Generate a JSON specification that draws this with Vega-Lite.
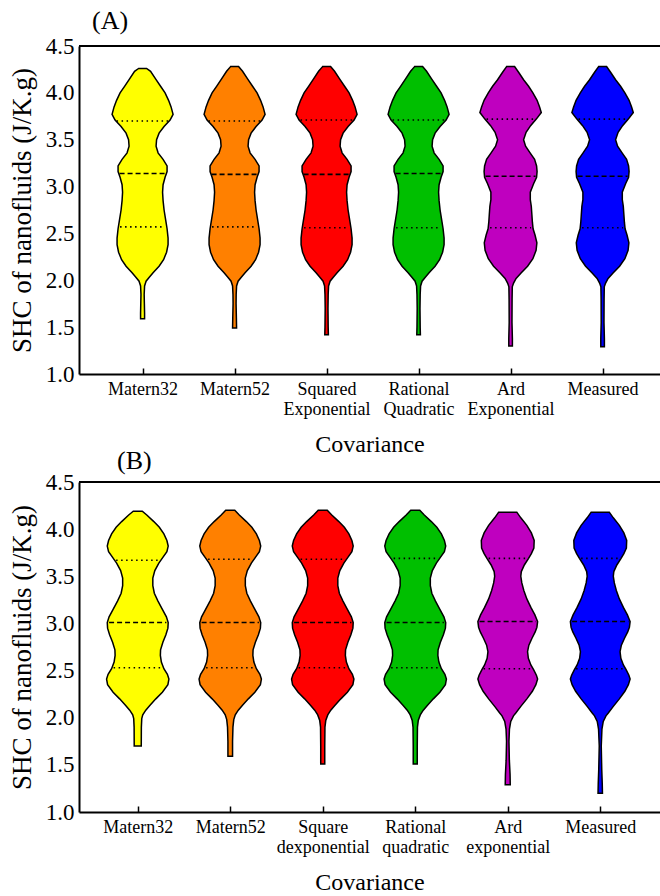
{
"$schema": "https://vega.github.io/schema/vega-lite/v6.json",
"padding": {"left": 8, "top": 8, "right": 0, "bottom": 0},
"background": "white",
"config": {"font": "Liberation Serif", "view": {"stroke": null},
  "axis": {"labelFont": "Liberation Serif", "titleFont": "Liberation Serif", "labelColor": "black", "titleColor": "black", "domainColor": "black", "tickColor": "black", "titleFontWeight": "normal", "grid": false},
  "title": {"font": "Liberation Serif", "fontWeight": "normal", "fontSize": 26, "color": "black"}},
"datasets": {
"A": [
{"c":"Matern32","v":4.26,"w":4},{"c":"Matern32","v":4.23,"w":8},{"c":"Matern32","v":4.15,"w":13},{"c":"Matern32","v":4.07,"w":18},{"c":"Matern32","v":4.0,"w":22.5},{"c":"Matern32","v":3.92,"w":26},{"c":"Matern32","v":3.85,"w":28.5},{"c":"Matern32","v":3.77,"w":30.5},{"c":"Matern32","v":3.71,"w":27.5},{"c":"Matern32","v":3.64,"w":21.5},{"c":"Matern32","v":3.57,"w":16.5},{"c":"Matern32","v":3.5,"w":14},{"c":"Matern32","v":3.43,"w":13.5},{"c":"Matern32","v":3.36,"w":15.5},{"c":"Matern32","v":3.29,"w":20.5},{"c":"Matern32","v":3.22,"w":24.5},{"c":"Matern32","v":3.16,"w":24.5},{"c":"Matern32","v":3.1,"w":22.5},{"c":"Matern32","v":3.02,"w":20.5},{"c":"Matern32","v":2.94,"w":20},{"c":"Matern32","v":2.85,"w":20.5},{"c":"Matern32","v":2.75,"w":21.5},{"c":"Matern32","v":2.65,"w":23},{"c":"Matern32","v":2.55,"w":24.5},{"c":"Matern32","v":2.45,"w":25.5},{"c":"Matern32","v":2.38,"w":25.5},{"c":"Matern32","v":2.3,"w":24},{"c":"Matern32","v":2.22,"w":21},{"c":"Matern32","v":2.15,"w":16.5},{"c":"Matern32","v":2.08,"w":10.5},{"c":"Matern32","v":2.03,"w":6.5},{"c":"Matern32","v":1.99,"w":3.5},{"c":"Matern32","v":1.94,"w":2},{"c":"Matern32","v":1.85,"w":1.6},{"c":"Matern32","v":1.75,"w":1.8},{"c":"Matern32","v":1.65,"w":2},{"c":"Matern32","v":1.59,"w":2},
{"c":"Matern52","v":4.28,"w":4},{"c":"Matern52","v":4.23,"w":8},{"c":"Matern52","v":4.15,"w":13},{"c":"Matern52","v":4.07,"w":18},{"c":"Matern52","v":4.0,"w":22.5},{"c":"Matern52","v":3.92,"w":26},{"c":"Matern52","v":3.85,"w":28.5},{"c":"Matern52","v":3.77,"w":30.5},{"c":"Matern52","v":3.71,"w":27.5},{"c":"Matern52","v":3.64,"w":21.5},{"c":"Matern52","v":3.57,"w":16.5},{"c":"Matern52","v":3.5,"w":14},{"c":"Matern52","v":3.43,"w":13.5},{"c":"Matern52","v":3.36,"w":15.5},{"c":"Matern52","v":3.29,"w":20.5},{"c":"Matern52","v":3.22,"w":24.5},{"c":"Matern52","v":3.16,"w":24.5},{"c":"Matern52","v":3.1,"w":22.5},{"c":"Matern52","v":3.02,"w":20.5},{"c":"Matern52","v":2.94,"w":20},{"c":"Matern52","v":2.85,"w":20.5},{"c":"Matern52","v":2.75,"w":21.5},{"c":"Matern52","v":2.65,"w":23},{"c":"Matern52","v":2.55,"w":24.5},{"c":"Matern52","v":2.45,"w":25.5},{"c":"Matern52","v":2.38,"w":25.5},{"c":"Matern52","v":2.3,"w":24},{"c":"Matern52","v":2.22,"w":21},{"c":"Matern52","v":2.15,"w":16.5},{"c":"Matern52","v":2.08,"w":10.5},{"c":"Matern52","v":2.03,"w":6.5},{"c":"Matern52","v":1.99,"w":3.5},{"c":"Matern52","v":1.94,"w":2},{"c":"Matern52","v":1.85,"w":1.6},{"c":"Matern52","v":1.75,"w":1.5},{"c":"Matern52","v":1.6,"w":1.8},{"c":"Matern52","v":1.49,"w":2},
{"c":"Squared Exponential","v":4.28,"w":4},{"c":"Squared Exponential","v":4.23,"w":8},{"c":"Squared Exponential","v":4.15,"w":13},{"c":"Squared Exponential","v":4.07,"w":18},{"c":"Squared Exponential","v":4.0,"w":22.5},{"c":"Squared Exponential","v":3.92,"w":26},{"c":"Squared Exponential","v":3.85,"w":28.5},{"c":"Squared Exponential","v":3.77,"w":30.5},{"c":"Squared Exponential","v":3.71,"w":27.5},{"c":"Squared Exponential","v":3.64,"w":21.5},{"c":"Squared Exponential","v":3.57,"w":16.5},{"c":"Squared Exponential","v":3.5,"w":14},{"c":"Squared Exponential","v":3.43,"w":13.5},{"c":"Squared Exponential","v":3.36,"w":15.5},{"c":"Squared Exponential","v":3.29,"w":20.5},{"c":"Squared Exponential","v":3.22,"w":24.5},{"c":"Squared Exponential","v":3.16,"w":24.5},{"c":"Squared Exponential","v":3.1,"w":22.5},{"c":"Squared Exponential","v":3.02,"w":20.5},{"c":"Squared Exponential","v":2.94,"w":20},{"c":"Squared Exponential","v":2.85,"w":20.5},{"c":"Squared Exponential","v":2.75,"w":21.5},{"c":"Squared Exponential","v":2.65,"w":23},{"c":"Squared Exponential","v":2.55,"w":24.5},{"c":"Squared Exponential","v":2.45,"w":25.5},{"c":"Squared Exponential","v":2.38,"w":25.5},{"c":"Squared Exponential","v":2.3,"w":24},{"c":"Squared Exponential","v":2.22,"w":21},{"c":"Squared Exponential","v":2.15,"w":16.5},{"c":"Squared Exponential","v":2.08,"w":10.5},{"c":"Squared Exponential","v":2.03,"w":6.5},{"c":"Squared Exponential","v":1.99,"w":3.5},{"c":"Squared Exponential","v":1.94,"w":2},{"c":"Squared Exponential","v":1.85,"w":1.6},{"c":"Squared Exponential","v":1.7,"w":1.4},{"c":"Squared Exponential","v":1.5,"w":1.6},{"c":"Squared Exponential","v":1.42,"w":1.8},
{"c":"Rational Quadratic","v":4.28,"w":4},{"c":"Rational Quadratic","v":4.23,"w":8},{"c":"Rational Quadratic","v":4.15,"w":13},{"c":"Rational Quadratic","v":4.07,"w":18},{"c":"Rational Quadratic","v":4.0,"w":22.5},{"c":"Rational Quadratic","v":3.92,"w":26},{"c":"Rational Quadratic","v":3.85,"w":28.5},{"c":"Rational Quadratic","v":3.77,"w":30.5},{"c":"Rational Quadratic","v":3.71,"w":27.5},{"c":"Rational Quadratic","v":3.64,"w":21.5},{"c":"Rational Quadratic","v":3.57,"w":16.5},{"c":"Rational Quadratic","v":3.5,"w":14},{"c":"Rational Quadratic","v":3.43,"w":13.5},{"c":"Rational Quadratic","v":3.36,"w":15.5},{"c":"Rational Quadratic","v":3.29,"w":20.5},{"c":"Rational Quadratic","v":3.22,"w":24.5},{"c":"Rational Quadratic","v":3.16,"w":24.5},{"c":"Rational Quadratic","v":3.1,"w":22.5},{"c":"Rational Quadratic","v":3.02,"w":20.5},{"c":"Rational Quadratic","v":2.94,"w":20},{"c":"Rational Quadratic","v":2.85,"w":20.5},{"c":"Rational Quadratic","v":2.75,"w":21.5},{"c":"Rational Quadratic","v":2.65,"w":23},{"c":"Rational Quadratic","v":2.55,"w":24.5},{"c":"Rational Quadratic","v":2.45,"w":25.5},{"c":"Rational Quadratic","v":2.38,"w":25.5},{"c":"Rational Quadratic","v":2.3,"w":24},{"c":"Rational Quadratic","v":2.22,"w":21},{"c":"Rational Quadratic","v":2.15,"w":16.5},{"c":"Rational Quadratic","v":2.08,"w":10.5},{"c":"Rational Quadratic","v":2.03,"w":6.5},{"c":"Rational Quadratic","v":1.99,"w":3.5},{"c":"Rational Quadratic","v":1.94,"w":2},{"c":"Rational Quadratic","v":1.85,"w":1.6},{"c":"Rational Quadratic","v":1.7,"w":1.4},{"c":"Rational Quadratic","v":1.5,"w":1.6},{"c":"Rational Quadratic","v":1.42,"w":1.8},
{"c":"Ard Exponential","v":4.28,"w":4},{"c":"Ard Exponential","v":4.22,"w":8},{"c":"Ard Exponential","v":4.14,"w":13},{"c":"Ard Exponential","v":4.07,"w":18},{"c":"Ard Exponential","v":4.0,"w":22.3},{"c":"Ard Exponential","v":3.92,"w":26.5},{"c":"Ard Exponential","v":3.85,"w":29},{"c":"Ard Exponential","v":3.79,"w":30.7},{"c":"Ard Exponential","v":3.72,"w":25.7},{"c":"Ard Exponential","v":3.65,"w":20},{"c":"Ard Exponential","v":3.58,"w":15.5},{"c":"Ard Exponential","v":3.5,"w":13},{"c":"Ard Exponential","v":3.43,"w":15},{"c":"Ard Exponential","v":3.36,"w":19.5},{"c":"Ard Exponential","v":3.29,"w":24},{"c":"Ard Exponential","v":3.22,"w":26},{"c":"Ard Exponential","v":3.16,"w":26.5},{"c":"Ard Exponential","v":3.1,"w":26},{"c":"Ard Exponential","v":3.03,"w":23},{"c":"Ard Exponential","v":2.94,"w":19.7},{"c":"Ard Exponential","v":2.86,"w":19.7},{"c":"Ard Exponential","v":2.79,"w":20.7},{"c":"Ard Exponential","v":2.7,"w":21.3},{"c":"Ard Exponential","v":2.62,"w":21.8},{"c":"Ard Exponential","v":2.55,"w":22.5},{"c":"Ard Exponential","v":2.48,"w":24.5},{"c":"Ard Exponential","v":2.4,"w":26.3},{"c":"Ard Exponential","v":2.32,"w":25.5},{"c":"Ard Exponential","v":2.23,"w":22.3},{"c":"Ard Exponential","v":2.15,"w":17},{"c":"Ard Exponential","v":2.08,"w":10.7},{"c":"Ard Exponential","v":2.02,"w":5.5},{"c":"Ard Exponential","v":1.97,"w":3},{"c":"Ard Exponential","v":1.93,"w":1.7},{"c":"Ard Exponential","v":1.8,"w":1.5},{"c":"Ard Exponential","v":1.55,"w":1.4},{"c":"Ard Exponential","v":1.38,"w":1.8},{"c":"Ard Exponential","v":1.3,"w":1.8},
{"c":"Measured","v":4.28,"w":4},{"c":"Measured","v":4.22,"w":8},{"c":"Measured","v":4.14,"w":13},{"c":"Measured","v":4.07,"w":18},{"c":"Measured","v":4.0,"w":22.3},{"c":"Measured","v":3.92,"w":26.5},{"c":"Measured","v":3.85,"w":29},{"c":"Measured","v":3.79,"w":30.7},{"c":"Measured","v":3.72,"w":25.7},{"c":"Measured","v":3.65,"w":20},{"c":"Measured","v":3.58,"w":15.5},{"c":"Measured","v":3.5,"w":13},{"c":"Measured","v":3.43,"w":15},{"c":"Measured","v":3.36,"w":19.5},{"c":"Measured","v":3.29,"w":24},{"c":"Measured","v":3.22,"w":26},{"c":"Measured","v":3.16,"w":26.5},{"c":"Measured","v":3.1,"w":26},{"c":"Measured","v":3.03,"w":23},{"c":"Measured","v":2.94,"w":19.7},{"c":"Measured","v":2.86,"w":19.7},{"c":"Measured","v":2.79,"w":20.7},{"c":"Measured","v":2.7,"w":21.3},{"c":"Measured","v":2.62,"w":21.8},{"c":"Measured","v":2.55,"w":22.5},{"c":"Measured","v":2.48,"w":24.5},{"c":"Measured","v":2.4,"w":26.3},{"c":"Measured","v":2.32,"w":25.5},{"c":"Measured","v":2.23,"w":22.3},{"c":"Measured","v":2.15,"w":17},{"c":"Measured","v":2.08,"w":10.7},{"c":"Measured","v":2.02,"w":5.5},{"c":"Measured","v":1.97,"w":3},{"c":"Measured","v":1.93,"w":1.7},{"c":"Measured","v":1.8,"w":1.5},{"c":"Measured","v":1.55,"w":1.4},{"c":"Measured","v":1.38,"w":1.8},{"c":"Measured","v":1.29,"w":1.8}
],
"B": [
{"c":"Matern32","v":4.19,"w":4.5},{"c":"Matern32","v":4.15,"w":9},{"c":"Matern32","v":4.08,"w":16},{"c":"Matern32","v":4.02,"w":21.5},{"c":"Matern32","v":3.95,"w":26},{"c":"Matern32","v":3.88,"w":29},{"c":"Matern32","v":3.82,"w":30.3},{"c":"Matern32","v":3.76,"w":29},{"c":"Matern32","v":3.7,"w":25},{"c":"Matern32","v":3.64,"w":21},{"c":"Matern32","v":3.56,"w":17},{"c":"Matern32","v":3.48,"w":15},{"c":"Matern32","v":3.4,"w":15},{"c":"Matern32","v":3.32,"w":16.5},{"c":"Matern32","v":3.24,"w":20},{"c":"Matern32","v":3.15,"w":24.5},{"c":"Matern32","v":3.07,"w":28.5},{"c":"Matern32","v":3.01,"w":30.3},{"c":"Matern32","v":2.95,"w":30},{"c":"Matern32","v":2.88,"w":28},{"c":"Matern32","v":2.8,"w":25},{"c":"Matern32","v":2.72,"w":22.7},{"c":"Matern32","v":2.66,"w":22.5},{"c":"Matern32","v":2.59,"w":23.5},{"c":"Matern32","v":2.52,"w":26},{"c":"Matern32","v":2.46,"w":29.5},{"c":"Matern32","v":2.41,"w":31},{"c":"Matern32","v":2.35,"w":30},{"c":"Matern32","v":2.27,"w":24.5},{"c":"Matern32","v":2.2,"w":18},{"c":"Matern32","v":2.13,"w":12},{"c":"Matern32","v":2.08,"w":8},{"c":"Matern32","v":2.03,"w":5},{"c":"Matern32","v":1.99,"w":4},{"c":"Matern32","v":1.9,"w":3.6},{"c":"Matern32","v":1.7,"w":3.5},
{"c":"Matern52","v":4.2,"w":4.5},{"c":"Matern52","v":4.15,"w":9},{"c":"Matern52","v":4.08,"w":16},{"c":"Matern52","v":4.02,"w":21.5},{"c":"Matern52","v":3.95,"w":26},{"c":"Matern52","v":3.88,"w":29},{"c":"Matern52","v":3.82,"w":30.3},{"c":"Matern52","v":3.76,"w":29},{"c":"Matern52","v":3.7,"w":25},{"c":"Matern52","v":3.64,"w":21},{"c":"Matern52","v":3.56,"w":17},{"c":"Matern52","v":3.48,"w":15},{"c":"Matern52","v":3.4,"w":15},{"c":"Matern52","v":3.32,"w":16.5},{"c":"Matern52","v":3.24,"w":20},{"c":"Matern52","v":3.15,"w":24.5},{"c":"Matern52","v":3.07,"w":28.5},{"c":"Matern52","v":3.01,"w":30.3},{"c":"Matern52","v":2.95,"w":30},{"c":"Matern52","v":2.88,"w":28},{"c":"Matern52","v":2.8,"w":25},{"c":"Matern52","v":2.72,"w":22.7},{"c":"Matern52","v":2.66,"w":22.5},{"c":"Matern52","v":2.59,"w":23.5},{"c":"Matern52","v":2.52,"w":26},{"c":"Matern52","v":2.46,"w":29.5},{"c":"Matern52","v":2.41,"w":31},{"c":"Matern52","v":2.35,"w":30},{"c":"Matern52","v":2.27,"w":24.5},{"c":"Matern52","v":2.2,"w":18},{"c":"Matern52","v":2.13,"w":12},{"c":"Matern52","v":2.08,"w":8},{"c":"Matern52","v":2.03,"w":5},{"c":"Matern52","v":1.98,"w":3.5},{"c":"Matern52","v":1.9,"w":2.7},{"c":"Matern52","v":1.75,"w":2.3},{"c":"Matern52","v":1.59,"w":2.3},
{"c":"Square dexponential","v":4.2,"w":4.5},{"c":"Square dexponential","v":4.15,"w":9},{"c":"Square dexponential","v":4.08,"w":16},{"c":"Square dexponential","v":4.02,"w":21.5},{"c":"Square dexponential","v":3.95,"w":26},{"c":"Square dexponential","v":3.88,"w":29},{"c":"Square dexponential","v":3.82,"w":30.3},{"c":"Square dexponential","v":3.76,"w":29},{"c":"Square dexponential","v":3.7,"w":25},{"c":"Square dexponential","v":3.64,"w":21},{"c":"Square dexponential","v":3.56,"w":17},{"c":"Square dexponential","v":3.48,"w":15},{"c":"Square dexponential","v":3.4,"w":15},{"c":"Square dexponential","v":3.32,"w":16.5},{"c":"Square dexponential","v":3.24,"w":20},{"c":"Square dexponential","v":3.15,"w":24.5},{"c":"Square dexponential","v":3.07,"w":28.5},{"c":"Square dexponential","v":3.01,"w":30.3},{"c":"Square dexponential","v":2.95,"w":30},{"c":"Square dexponential","v":2.88,"w":28},{"c":"Square dexponential","v":2.8,"w":25},{"c":"Square dexponential","v":2.72,"w":22.7},{"c":"Square dexponential","v":2.66,"w":22.5},{"c":"Square dexponential","v":2.59,"w":23.5},{"c":"Square dexponential","v":2.52,"w":26},{"c":"Square dexponential","v":2.46,"w":29.5},{"c":"Square dexponential","v":2.41,"w":31},{"c":"Square dexponential","v":2.35,"w":30},{"c":"Square dexponential","v":2.27,"w":24.5},{"c":"Square dexponential","v":2.2,"w":18},{"c":"Square dexponential","v":2.13,"w":12},{"c":"Square dexponential","v":2.08,"w":8},{"c":"Square dexponential","v":2.03,"w":5},{"c":"Square dexponential","v":1.97,"w":3},{"c":"Square dexponential","v":1.9,"w":2.2},{"c":"Square dexponential","v":1.7,"w":2},{"c":"Square dexponential","v":1.51,"w":2},
{"c":"Rational quadratic","v":4.2,"w":4.5},{"c":"Rational quadratic","v":4.15,"w":9},{"c":"Rational quadratic","v":4.08,"w":16},{"c":"Rational quadratic","v":4.02,"w":21.5},{"c":"Rational quadratic","v":3.95,"w":26},{"c":"Rational quadratic","v":3.88,"w":29},{"c":"Rational quadratic","v":3.82,"w":30.3},{"c":"Rational quadratic","v":3.76,"w":29},{"c":"Rational quadratic","v":3.7,"w":25},{"c":"Rational quadratic","v":3.64,"w":21},{"c":"Rational quadratic","v":3.56,"w":17},{"c":"Rational quadratic","v":3.48,"w":15},{"c":"Rational quadratic","v":3.4,"w":15},{"c":"Rational quadratic","v":3.32,"w":16.5},{"c":"Rational quadratic","v":3.24,"w":20},{"c":"Rational quadratic","v":3.15,"w":24.5},{"c":"Rational quadratic","v":3.07,"w":28.5},{"c":"Rational quadratic","v":3.01,"w":30.3},{"c":"Rational quadratic","v":2.95,"w":30},{"c":"Rational quadratic","v":2.88,"w":28},{"c":"Rational quadratic","v":2.8,"w":25},{"c":"Rational quadratic","v":2.72,"w":22.7},{"c":"Rational quadratic","v":2.66,"w":22.5},{"c":"Rational quadratic","v":2.59,"w":23.5},{"c":"Rational quadratic","v":2.52,"w":26},{"c":"Rational quadratic","v":2.46,"w":29.5},{"c":"Rational quadratic","v":2.41,"w":31},{"c":"Rational quadratic","v":2.35,"w":30},{"c":"Rational quadratic","v":2.27,"w":24.5},{"c":"Rational quadratic","v":2.2,"w":18},{"c":"Rational quadratic","v":2.13,"w":12},{"c":"Rational quadratic","v":2.08,"w":8},{"c":"Rational quadratic","v":2.03,"w":5},{"c":"Rational quadratic","v":1.97,"w":3},{"c":"Rational quadratic","v":1.9,"w":2.2},{"c":"Rational quadratic","v":1.7,"w":2},{"c":"Rational quadratic","v":1.51,"w":2},
{"c":"Ard exponential","v":4.18,"w":9},{"c":"Ard exponential","v":4.12,"w":13},{"c":"Ard exponential","v":4.04,"w":19},{"c":"Ard exponential","v":3.96,"w":23.5},{"c":"Ard exponential","v":3.88,"w":26.3},{"c":"Ard exponential","v":3.8,"w":26},{"c":"Ard exponential","v":3.74,"w":23.5},{"c":"Ard exponential","v":3.69,"w":20.7},{"c":"Ard exponential","v":3.62,"w":16.5},{"c":"Ard exponential","v":3.55,"w":13.5},{"c":"Ard exponential","v":3.5,"w":13},{"c":"Ard exponential","v":3.43,"w":14},{"c":"Ard exponential","v":3.35,"w":16},{"c":"Ard exponential","v":3.26,"w":19},{"c":"Ard exponential","v":3.17,"w":23},{"c":"Ard exponential","v":3.09,"w":27},{"c":"Ard exponential","v":3.02,"w":29.7},{"c":"Ard exponential","v":2.96,"w":29},{"c":"Ard exponential","v":2.91,"w":27.3},{"c":"Ard exponential","v":2.84,"w":24},{"c":"Ard exponential","v":2.77,"w":21},{"c":"Ard exponential","v":2.7,"w":19.7},{"c":"Ard exponential","v":2.63,"w":20.5},{"c":"Ard exponential","v":2.56,"w":23},{"c":"Ard exponential","v":2.51,"w":25.7},{"c":"Ard exponential","v":2.45,"w":28.5},{"c":"Ard exponential","v":2.41,"w":29.7},{"c":"Ard exponential","v":2.35,"w":28},{"c":"Ard exponential","v":2.28,"w":24.5},{"c":"Ard exponential","v":2.2,"w":19},{"c":"Ard exponential","v":2.12,"w":13},{"c":"Ard exponential","v":2.05,"w":8},{"c":"Ard exponential","v":2.02,"w":5.7},{"c":"Ard exponential","v":1.96,"w":3},{"c":"Ard exponential","v":1.88,"w":1.7},{"c":"Ard exponential","v":1.75,"w":1.2},{"c":"Ard exponential","v":1.55,"w":1.6},{"c":"Ard exponential","v":1.4,"w":2.3},{"c":"Ard exponential","v":1.29,"w":2.5},
{"c":"Measured","v":4.18,"w":9},{"c":"Measured","v":4.12,"w":13},{"c":"Measured","v":4.04,"w":19},{"c":"Measured","v":3.96,"w":23.5},{"c":"Measured","v":3.88,"w":26.3},{"c":"Measured","v":3.8,"w":26},{"c":"Measured","v":3.74,"w":23.5},{"c":"Measured","v":3.69,"w":20.7},{"c":"Measured","v":3.62,"w":16.5},{"c":"Measured","v":3.55,"w":13.5},{"c":"Measured","v":3.5,"w":13},{"c":"Measured","v":3.43,"w":14},{"c":"Measured","v":3.35,"w":16},{"c":"Measured","v":3.26,"w":19},{"c":"Measured","v":3.17,"w":23},{"c":"Measured","v":3.09,"w":27},{"c":"Measured","v":3.02,"w":29.7},{"c":"Measured","v":2.96,"w":29},{"c":"Measured","v":2.91,"w":27.3},{"c":"Measured","v":2.84,"w":24},{"c":"Measured","v":2.77,"w":21},{"c":"Measured","v":2.7,"w":19.7},{"c":"Measured","v":2.63,"w":20.5},{"c":"Measured","v":2.56,"w":23},{"c":"Measured","v":2.51,"w":25.7},{"c":"Measured","v":2.45,"w":28.5},{"c":"Measured","v":2.41,"w":29.7},{"c":"Measured","v":2.35,"w":28},{"c":"Measured","v":2.28,"w":24.5},{"c":"Measured","v":2.2,"w":19},{"c":"Measured","v":2.12,"w":13},{"c":"Measured","v":2.05,"w":8},{"c":"Measured","v":2.02,"w":5.7},{"c":"Measured","v":1.96,"w":3},{"c":"Measured","v":1.88,"w":1.7},{"c":"Measured","v":1.7,"w":1.0},{"c":"Measured","v":1.45,"w":1.5},{"c":"Measured","v":1.3,"w":2},{"c":"Measured","v":1.2,"w":2.2}
],
"qA": [
{"c":"Matern32","s":"Q1","v":2.57,"w":23.5},{"c":"Matern32","s":"median","v":3.14,"w":24},{"c":"Matern32","s":"Q3","v":3.7,"w":27},
{"c":"Matern52","s":"Q1","v":2.57,"w":23.5},{"c":"Matern52","s":"median","v":3.13,"w":24},{"c":"Matern52","s":"Q3","v":3.7,"w":27},
{"c":"Squared Exponential","s":"Q1","v":2.56,"w":23.5},{"c":"Squared Exponential","s":"median","v":3.13,"w":24},{"c":"Squared Exponential","s":"Q3","v":3.71,"w":27},
{"c":"Rational Quadratic","s":"Q1","v":2.56,"w":23.5},{"c":"Rational Quadratic","s":"median","v":3.14,"w":24},{"c":"Rational Quadratic","s":"Q3","v":3.71,"w":27},
{"c":"Ard Exponential","s":"Q1","v":2.56,"w":21.5},{"c":"Ard Exponential","s":"median","v":3.11,"w":26},{"c":"Ard Exponential","s":"Q3","v":3.72,"w":25},
{"c":"Measured","s":"Q1","v":2.56,"w":21.5},{"c":"Measured","s":"median","v":3.11,"w":26},{"c":"Measured","s":"Q3","v":3.72,"w":25}
],
"qB": [
{"c":"Matern32","s":"Q1","v":2.53,"w":25},{"c":"Matern32","s":"median","v":3.01,"w":29.5},{"c":"Matern32","s":"Q3","v":3.67,"w":22.5},
{"c":"Matern52","s":"Q1","v":2.53,"w":25},{"c":"Matern52","s":"median","v":3.01,"w":29.5},{"c":"Matern52","s":"Q3","v":3.68,"w":23},
{"c":"Square dexponential","s":"Q1","v":2.53,"w":25},{"c":"Square dexponential","s":"median","v":3.01,"w":29.5},{"c":"Square dexponential","s":"Q3","v":3.68,"w":23},
{"c":"Rational quadratic","s":"Q1","v":2.53,"w":25},{"c":"Rational quadratic","s":"median","v":3.01,"w":29.5},{"c":"Rational quadratic","s":"Q3","v":3.69,"w":22.5},
{"c":"Ard exponential","s":"Q1","v":2.52,"w":25},{"c":"Ard exponential","s":"median","v":3.02,"w":29},{"c":"Ard exponential","s":"Q3","v":3.69,"w":20},
{"c":"Measured","s":"Q1","v":2.52,"w":25},{"c":"Measured","s":"median","v":3.02,"w":29},{"c":"Measured","s":"Q3","v":3.69,"w":20}
]
},
"vconcat": [
{
"title": {"text": "(A)", "anchor": "start", "frame": "group", "dx": 13, "offset": -20, "baseline": "alphabetic", "font": "Liberation Serif"},
"width": 581, "height": 328,
"encoding": {
  "y": {"type": "quantitative", "scale": {"domain": [1, 4.5], "nice": false, "zero": false},
        "axis": {"values": [1,1.5,2,2.5,3,3.5,4,4.5], "format": ".1f", "ticks": false, "labelPadding": 5, "labelFont": "Liberation Serif", "labelFontSize": 23, "labelFlush": false, "domainWidth": 2, "title": "SHC of nanofluids (J/K.g)", "titleFont": "Liberation Serif", "titleFontSize": 27, "titleX": -49, "titleBaseline": "alphabetic"}},
  "x": {"type": "quantitative", "scale": {"domain": [0.309, 6.624], "nice": false, "zero": false},
        "axis": {"values": [1,2,3,4,5,6], "labelExpr": "split(['Matern32','Matern52','Squared Exponential','Rational Quadratic','Ard Exponential','Measured'][datum.value - 1], ' ')", "labelFont": "Liberation Serif", "labelFontSize": 18, "labelLineHeight": 20, "labelPadding": 12.5, "labelBaseline": "top", "tickSize": -6, "tickWidth": 1.5, "domainWidth": 2, "labelFlush": false, "title": "Covariance", "titleFont": "Liberation Serif", "titleFontSize": 24, "titleY": 77, "titleBaseline": "alphabetic"}}
},
"layer": [
{"data": {"name": "A"},
 "transform": [
  {"calculate": "indexof(['Matern32','Matern52','Squared Exponential','Rational Quadratic','Ard Exponential','Measured'], datum.c) + 1", "as": "idx"},
  {"calculate": "datum.idx - datum.w / 92", "as": "xl"},
  {"calculate": "datum.idx + datum.w / 92", "as": "xr"}],
 "mark": {"type": "area", "orient": "horizontal", "stroke": "black", "strokeWidth": 1.5, "fillOpacity": 1},
 "encoding": {
  "y": {"field": "v"},
  "x": {"field": "xl"},
  "x2": {"field": "xr"},
  "color": {"field": "c", "type": "nominal", "legend": null, "scale": {"domain": ["Matern32","Matern52","Squared Exponential","Rational Quadratic","Ard Exponential","Measured"], "range": ["#FFFF00","#FF8000","#FF0000","#00BF00","#BF00BF","#0000FF"]}},
  "detail": {"field": "c"}}},
{"data": {"name": "qA"},
 "transform": [
  {"filter": "datum.s != 'median'"},
  {"calculate": "indexof(['Matern32','Matern52','Squared Exponential','Rational Quadratic','Ard Exponential','Measured'], datum.c) + 1", "as": "idx"},
  {"calculate": "datum.idx - (datum.w - 1) / 92", "as": "xl"},
  {"calculate": "datum.idx + (datum.w - 1) / 92", "as": "xr"}],
 "mark": {"type": "rule", "color": "black", "strokeWidth": 1.6, "strokeDash": [1.5, 3.5]},
 "encoding": {"y": {"field": "v"}, "x": {"field": "xl"}, "x2": {"field": "xr"}}},
{"data": {"name": "qA"},
 "transform": [
  {"filter": "datum.s == 'median'"},
  {"calculate": "indexof(['Matern32','Matern52','Squared Exponential','Rational Quadratic','Ard Exponential','Measured'], datum.c) + 1", "as": "idx"},
  {"calculate": "datum.idx - (datum.w - 1) / 92", "as": "xl"},
  {"calculate": "datum.idx + (datum.w - 1) / 92", "as": "xr"}],
 "mark": {"type": "rule", "color": "black", "strokeWidth": 1.6, "strokeDash": [5, 3]},
 "encoding": {"y": {"field": "v"}, "x": {"field": "xl"}, "x2": {"field": "xr"}}},
{"data": {"values": [{"top": 4.5}]},
 "mark": {"type": "rule", "color": "black", "strokeWidth": 2},
 "encoding": {"y": {"field": "top"}, "x": null}}
]
},
{
"title": {"text": "(B)", "anchor": "start", "frame": "group", "dx": 38, "offset": -24, "baseline": "alphabetic", "font": "Liberation Serif"},
"width": 581, "height": 330,
"encoding": {
  "y": {"type": "quantitative", "scale": {"domain": [1, 4.5], "nice": false, "zero": false},
        "axis": {"values": [1,1.5,2,2.5,3,3.5,4,4.5], "format": ".1f", "ticks": false, "labelPadding": 5, "labelFont": "Liberation Serif", "labelFontSize": 23, "labelFlush": false, "domainWidth": 2, "title": "SHC of nanofluids (J/K.g)", "titleFont": "Liberation Serif", "titleFontSize": 27, "titleX": -49, "titleBaseline": "alphabetic"}},
  "x": {"type": "quantitative", "scale": {"domain": [0.365, 6.646], "nice": false, "zero": false},
        "axis": {"values": [1,2,3,4,5,6], "labelExpr": "split(['Matern32','Matern52','Square dexponential','Rational quadratic','Ard exponential','Measured'][datum.value - 1], ' ')", "labelFont": "Liberation Serif", "labelFontSize": 18, "labelLineHeight": 20, "labelPadding": 12.5, "labelBaseline": "top", "tickSize": -6, "tickWidth": 1.5, "domainWidth": 2, "labelFlush": false, "title": "Covariance", "titleFont": "Liberation Serif", "titleFontSize": 24, "titleY": 77, "titleBaseline": "alphabetic"}}
},
"layer": [
{"data": {"name": "B"},
 "transform": [
  {"calculate": "indexof(['Matern32','Matern52','Square dexponential','Rational quadratic','Ard exponential','Measured'], datum.c) + 1", "as": "idx"},
  {"calculate": "datum.idx - datum.w / 92", "as": "xl"},
  {"calculate": "datum.idx + datum.w / 92", "as": "xr"}],
 "mark": {"type": "area", "orient": "horizontal", "stroke": "black", "strokeWidth": 1.5, "fillOpacity": 1},
 "encoding": {
  "y": {"field": "v"},
  "x": {"field": "xl"},
  "x2": {"field": "xr"},
  "color": {"field": "c", "type": "nominal", "legend": null, "scale": {"domain": ["Matern32","Matern52","Square dexponential","Rational quadratic","Ard exponential","Measured"], "range": ["#FFFF00","#FF8000","#FF0000","#00BF00","#BF00BF","#0000FF"]}},
  "detail": {"field": "c"}}},
{"data": {"name": "qB"},
 "transform": [
  {"filter": "datum.s != 'median'"},
  {"calculate": "indexof(['Matern32','Matern52','Square dexponential','Rational quadratic','Ard exponential','Measured'], datum.c) + 1", "as": "idx"},
  {"calculate": "datum.idx - (datum.w - 1) / 92", "as": "xl"},
  {"calculate": "datum.idx + (datum.w - 1) / 92", "as": "xr"}],
 "mark": {"type": "rule", "color": "black", "strokeWidth": 1.6, "strokeDash": [1.5, 3.5]},
 "encoding": {"y": {"field": "v"}, "x": {"field": "xl"}, "x2": {"field": "xr"}}},
{"data": {"name": "qB"},
 "transform": [
  {"filter": "datum.s == 'median'"},
  {"calculate": "indexof(['Matern32','Matern52','Square dexponential','Rational quadratic','Ard exponential','Measured'], datum.c) + 1", "as": "idx"},
  {"calculate": "datum.idx - (datum.w - 1) / 92", "as": "xl"},
  {"calculate": "datum.idx + (datum.w - 1) / 92", "as": "xr"}],
 "mark": {"type": "rule", "color": "black", "strokeWidth": 1.6, "strokeDash": [5, 3]},
 "encoding": {"y": {"field": "v"}, "x": {"field": "xl"}, "x2": {"field": "xr"}}},
{"data": {"values": [{"top": 4.5}]},
 "mark": {"type": "rule", "color": "black", "strokeWidth": 2},
 "encoding": {"y": {"field": "top"}, "x": null}}
]
}
],
"spacing": 108,
"bounds": "flush",
"resolve": {"scale": {"x": "independent", "y": "independent", "color": "independent"}}
}
